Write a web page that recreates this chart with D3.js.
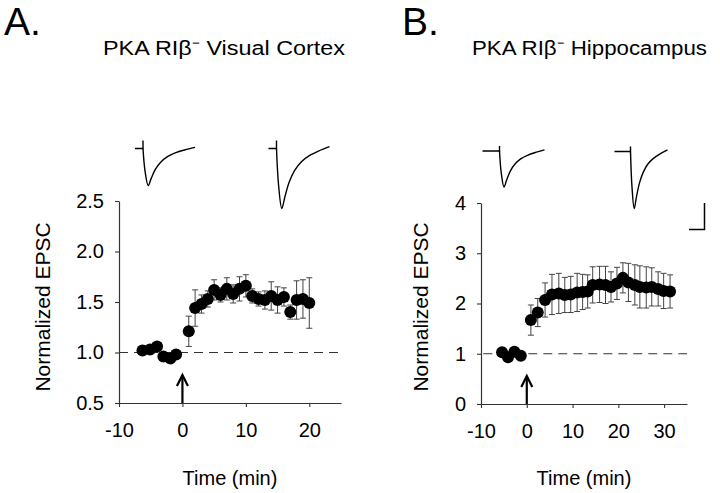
<!DOCTYPE html>
<html><head><meta charset="utf-8">
<script src="https://cdn.jsdelivr.net/npm/d3@7"></script>
<style>
html,body{margin:0;padding:0;background:#fff;}
svg{display:block;font-family:"Liberation Sans",Arial,Helvetica,sans-serif;}
</style></head>
<body>
<svg id="chart" width="720" height="493"></svg>
<script>
// ---------- DATA ----------
// Panel A: PKA RIβ⁻ Visual Cortex
const timeA  = [-6.3,-5.1,-4,-3,-1.9,-1, 1,2,3,4,5,6,7,8,9,10,11,12,13,14,15,16,17,18,19,20];
const epscA  = [1.02,1.03,1.06,0.96,0.94,0.98, 1.21,1.44,1.48,1.53,1.62,1.57,1.63,1.58,1.63,1.66,1.56,1.53,1.52,1.56,1.52,1.55,1.40,1.52,1.53,1.49];
const semA   = [0.02,0.02,0.02,0.02,0.02,0.02, 0.15,0.18,0.09,0.08,0.10,0.07,0.11,0.09,0.12,0.11,0.07,0.07,0.09,0.14,0.13,0.09,0.07,0.19,0.19,0.25];
const xTicksA = [-10,0,10,20];
const yTicksA = [0.5,1.0,1.5,2.0,2.5];

// Panel B: PKA RIβ⁻ Hippocampus
const timeB  = [-5.4,-4.1,-2.7,-1.3, 0.9,2.4,4.0,5.5,7.0,8.3,9.6,11.0,12.2,13.3,14.4,15.9,17.2,18.4,19.7,21.0,22.2,23.6,24.7,26.1,27.3,28.7,29.9,31.3];
const epscB  = [1.03,0.93,1.04,0.96, 1.67,1.82,2.07,2.18,2.20,2.17,2.18,2.22,2.23,2.24,2.37,2.38,2.37,2.33,2.40,2.51,2.42,2.37,2.33,2.32,2.33,2.29,2.25,2.24];
const semB   = [0.02,0.02,0.02,0.02, 0.30,0.28,0.34,0.40,0.40,0.35,0.36,0.38,0.35,0.33,0.36,0.36,0.37,0.30,0.32,0.30,0.38,0.40,0.42,0.41,0.38,0.34,0.35,0.33];
const xTicksB = [-10,0,10,20,30];
const yTicksB = [0,1,2,3,4];

// Example EPSC trace shape (normalized time, normalized current)
const waveT = [0, 0.04, 0.10, 0.16, 0.24, 0.34, 0.47, 0.62, 0.80, 1.00];
const waveI = [0, -0.62, -1.00, -0.80, -0.56, -0.37, -0.22, -0.12, -0.04, 0.03];

const titles = ["PKA RIβ⁻ Visual Cortex", "PKA RIβ⁻ Hippocampus"];
const letters = ["A.", "B."];

// ---------- LAYOUT ----------
const svg = d3.select("#chart");
const hyphenFmt = f => (d => f(d).replace("\u2212", "-"));
const panels = [
  { letter: letters[0], title: titles[0], letterX: 4, titleX: 103, titleW: 242,
    time: timeA, val: epscA, sem: semA, xTicks: xTicksA, yTicks: yTicksA,
    xDom: [-10,25], xRange: [119,341], yDom: [0.5,2.5], yRange: [403,201], yFmt: d3.format(".1f"),
    yLabelX: 50, dashStart: -10,
    traces: [ {x0:143, y0:148.5, pre:8, post:52, amp:37, spike:8},
              {x0:276.5, y0:148.5, pre:8, post:53, amp:60, spike:8} ],
    scaleBar: null },
  { letter: letters[1], title: titles[1], letterX: 402, titleX: 472, titleW: 235,
    time: timeB, val: epscB, sem: semB, xTicks: xTicksB, yTicks: yTicksB,
    xDom: [-10,35], xRange: [481,687], yDom: [0,4], yRange: [404,203], yFmt: d3.format("d"),
    yLabelX: 428, dashStart: -9.5,
    traces: [ {x0:499.5, y0:151, pre:17, post:45, amp:36, spike:5},
              {x0:630.5, y0:151.5, pre:16, post:37, amp:57, spike:5} ],
    scaleBar: {x:704.5, y0:203, y1:229.5, x1:689} }
];

panels.forEach(p => {
  const x = d3.scaleLinear().domain(p.xDom).range(p.xRange);
  const y = d3.scaleLinear().domain(p.yDom).range(p.yRange);
  const g = svg.append("g");

  // letter + title
  g.append("text").attr("x", p.letterX).attr("y", 35)
    .attr("font-size", 39).attr("fill", "#000").text(p.letter);
  g.append("text").attr("x", p.titleX).attr("y", 55)
    .attr("font-size", 20).attr("fill", "#000")
    .attr("textLength", p.titleW).attr("lengthAdjust", "spacingAndGlyphs")
    .text(p.title);

  // axes
  const xAxis = d3.axisBottom(x).tickValues(p.xTicks).tickSize(4).tickSizeOuter(0).tickFormat(hyphenFmt(d3.format("d")));
  const yAxis = d3.axisLeft(y).tickValues(p.yTicks).tickSize(4).tickSizeOuter(0).tickFormat(p.yFmt);
  const gx = g.append("g").attr("transform", `translate(0,${p.yRange[0]})`).call(xAxis);
  const gy = g.append("g").attr("transform", `translate(${p.xRange[0]},0)`).call(yAxis);
  [gx, gy].forEach(a => {
    a.select(".domain").attr("stroke", "#333").attr("stroke-width", 1.2);
    a.selectAll(".tick line").attr("stroke", "#333").attr("stroke-width", 1.1);
    a.selectAll(".tick text").attr("font-size", 20).attr("fill", "#000")
      .attr("font-family", '"Liberation Sans",Arial,sans-serif');
  });
  gx.selectAll(".tick text").attr("y", 20).attr("dy", "0.71em");
  gy.selectAll(".tick text").attr("x", -15);

  // axis titles
  g.append("text").attr("x", (p.xRange[0] + p.xRange[1]) / 2).attr("y", 485)
    .attr("text-anchor", "middle").attr("font-size", 20).attr("fill", "#000").text("Time (min)");
  g.append("text").attr("transform", `translate(${p.yLabelX},307) rotate(-90)`)
    .attr("text-anchor", "middle").attr("font-size", 21).attr("fill", "#000").text("Normalized EPSC");

  // dashed baseline at 1.0
  g.append("line")
    .attr("x1", x(p.dashStart)).attr("x2", x(p.xDom[1]))
    .attr("y1", y(1)).attr("y2", y(1))
    .attr("stroke", "#333").attr("stroke-width", 1.2).attr("stroke-dasharray", "9,6");

  // error bars
  const idx = d3.range(p.time.length);
  const eb = g.append("g").attr("stroke", "#444").attr("stroke-width", 1);
  idx.forEach(i => {
    const cx = x(p.time[i]), yt = y(p.val[i] + p.sem[i]), yb = y(p.val[i] - p.sem[i]);
    eb.append("line").attr("x1", cx).attr("x2", cx).attr("y1", yt).attr("y2", yb);
    eb.append("line").attr("x1", cx - 3).attr("x2", cx + 3).attr("y1", yt).attr("y2", yt);
    eb.append("line").attr("x1", cx - 3).attr("x2", cx + 3).attr("y1", yb).attr("y2", yb);
  });

  // markers
  g.append("g").selectAll("circle").data(idx).join("circle")
    .attr("cx", i => x(p.time[i])).attr("cy", i => y(p.val[i]))
    .attr("r", 6).attr("fill", "#000");

  // arrow at t = 0
  const ax = x(0), aTip = p.yRange[0] - 28;
  g.append("line").attr("x1", ax).attr("x2", ax).attr("y1", p.yRange[0]).attr("y2", aTip + 1)
    .attr("stroke", "#000").attr("stroke-width", 2.2);
  g.append("path")
    .attr("d", `M${ax - 5.5},${aTip + 11} L${ax},${aTip} L${ax + 5.5},${aTip + 11}`)
    .attr("fill", "none").attr("stroke", "#000").attr("stroke-width", 2.2);

  // example traces
  p.traces.forEach(t => {
    const tx = d3.scaleLinear().domain([0, 1]).range([t.x0, t.x0 + t.post]);
    const ty = d3.scaleLinear().domain([-1, 0]).range([t.y0 + t.amp, t.y0]);
    g.append("path")
      .attr("d", `M${t.x0 - t.pre},${t.y0} L${t.x0},${t.y0} M${t.x0},${t.y0 - t.spike} L${t.x0},${t.y0 + 1}`)
      .attr("fill", "none").attr("stroke", "#000").attr("stroke-width", 1.4);
    const line = d3.line().x((d, i) => tx(waveT[i])).y((d, i) => ty(waveI[i])).curve(d3.curveCatmullRom);
    g.append("path").attr("d", line(waveT))
      .attr("fill", "none").attr("stroke", "#000").attr("stroke-width", 1.4);
  });

  // scale bar
  if (p.scaleBar) {
    const s = p.scaleBar;
    g.append("path").attr("d", `M${s.x},${s.y0} L${s.x},${s.y1} L${s.x1},${s.y1}`)
      .attr("fill", "none").attr("stroke", "#000").attr("stroke-width", 1.5);
  }
});
</script>
</body></html>
